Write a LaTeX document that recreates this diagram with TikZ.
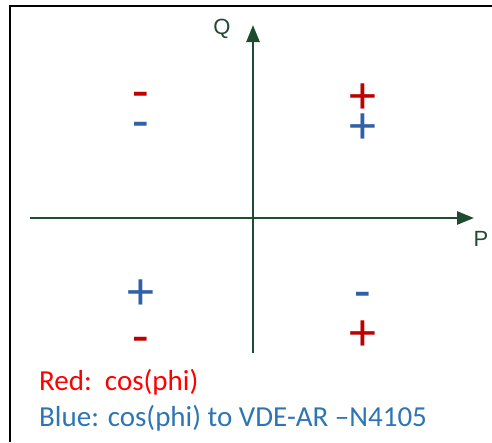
\documentclass[tikz,border=0pt]{standalone}
\usepackage{fontspec}
\setmainfont{Carlito}
\newfontfamily\axfont{Liberation Sans}
\usetikzlibrary{arrows.meta}

\begin{document}
\begin{tikzpicture}[x=1pt, y=-1pt, >={Triangle[length=17pt,width=13pt]}]

\definecolor{axisg}{rgb}{0.12,0.30,0.19}
\definecolor{signr}{rgb}{0.75,0,0}
\definecolor{signb}{rgb}{0.18,0.38,0.66}
\definecolor{textb}{rgb}{0.18,0.46,0.71}

\tikzset{
  axis/.style={draw=axisg, line width=2.6pt},
  axlabel/.style={text=axisg, font=\axfont\fontsize{22}{24}\selectfont, inner sep=0pt},
  sign/.style={font=\fontsize{54}{54}\selectfont, inner sep=0pt},
  plussign/.style={sign, yshift=-2pt},
  minussign/.style={sign, yshift=-7.5pt},
  legend/.style={anchor=base west, inner sep=0pt, font=\fontsize{29}{32}\selectfont}
}

\useasboundingbox (0,0) rectangle (492,442);

% frame
\draw[line width=2pt] (10,442)--(10,6)--(492,6);

% axes
\coordinate (pl) at (30,218);
\coordinate (pr) at (474,218);
\coordinate (qb) at (253,353);
\coordinate (qt) at (253,25);
\draw[axis,->] (pl)--(pr);
\draw[axis,->] (qb)--(qt);

\node[axlabel] (qlab) at (222,29) {Q};
\node[axlabel] (plab) at (481,239) {P};

% signs
\node[minussign, text=signr] (tlred) at (141,93) {-};
\node[minussign, text=signb] (tlblue) at (141,123) {-};
\node[plussign, text=signr] (trred) at (363,97) {+};
\node[plussign, text=signb] (trblue) at (363,127) {+};
\node[plussign, text=signb] (blblue) at (141,293) {+};
\node[minussign, text=signr] (blred) at (141,338) {-};
\node[minussign, text=signb] (brblue) at (363,293) {-};
\node[plussign, text=signr] (brred) at (363,334) {+};

% legend
\node[legend, text=red] (redtxt) at (39,390) {Red:\ \ cos(phi)};
\node[legend, text=textb] (bluetxt) at (39,426) {Blue: cos(phi) to VDE-AR –N4105};

\end{tikzpicture}
\end{document}
